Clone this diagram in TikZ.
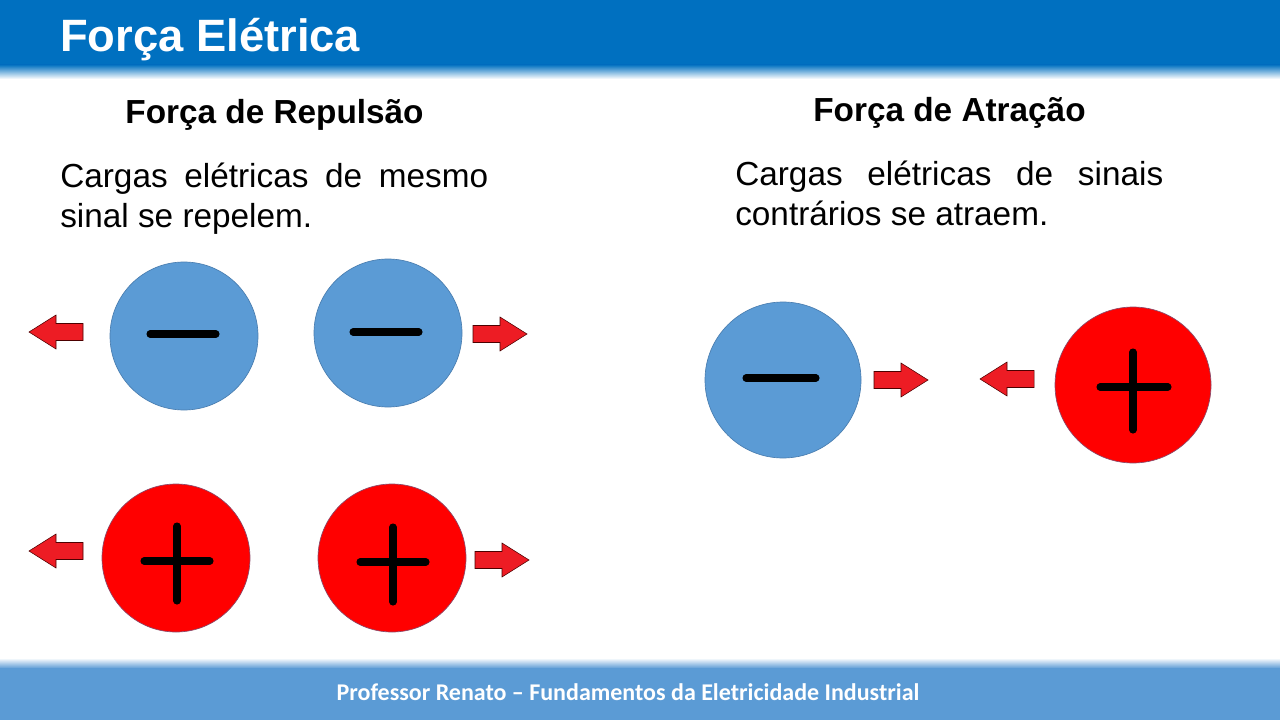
\documentclass[tikz,border=0pt]{standalone}
\usepackage{fontspec}
\setmainfont{Liberation Sans}
\newfontfamily\calfont{Carlito}
\definecolor{hdrblue}{HTML}{0070C0}
\definecolor{ftrblue}{HTML}{5B9BD5}
\definecolor{negblue}{HTML}{5B9BD5}
\definecolor{negedge}{HTML}{4A7EB0}
\definecolor{posred}{HTML}{FF0000}
\definecolor{posedge}{HTML}{8A4A6A}
\definecolor{arrred}{HTML}{ED1C24}
\tikzset{
  negch/.style={circle, fill=negblue, draw=negedge, line width=0.5pt, minimum size=111pt, inner sep=0pt},
  posch/.style={circle, fill=posred, draw=posedge, line width=0.5pt, minimum size=111pt, inner sep=0pt},
  signbar/.style={line width=5.3pt, line cap=round, black},
  pics/forcearrow/.style={code={
    \draw[fill=arrred, draw=black!70!red, line width=0.4pt]
      (0,-8.5) -- (27,-8.5) -- (27,-17) -- (54,0) -- (27,17) -- (27,8.5) -- (0,8.5) -- cycle;
  }},
  headtxt/.style={font=\bfseries\fontsize{25}{30}\selectfont, inner sep=0pt},
  bodytxt/.style={font=\fontsize{25}{30}\selectfont, inner sep=0pt}
}
\begin{document}
\begin{tikzpicture}[x=0.75pt,y=-0.75pt]
\useasboundingbox (0,0) rectangle (1280,720);
\fill[white] (0,0) rectangle (1280,720);
% header
\fill[hdrblue] (0,0) rectangle (1280,65);
\shade[top color=hdrblue, bottom color=white] (0,64.5) rectangle (1280,79);
\node[anchor=base west, inner sep=0pt, text=white, font=\bfseries\fontsize{34}{40}\selectfont] (title) at (60,52) {Força Elétrica};
% footer
\shade[top color=white, bottom color=ftrblue] (0,658) rectangle (1280,668.5);
\fill[ftrblue] (0,668) rectangle (1280,720);
\node[anchor=base, inner sep=0pt, text=white, font=\calfont\bfseries\fontsize{18}{22}\selectfont] (footer) at (628,700) {Professor Renato – Fundamentos da Eletricidade Industrial};
% headings
\node[headtxt, anchor=base] (hrep) at (274.5,124) {Força de Repulsão};
\node[headtxt, anchor=base] (hatr) at (949.5,122) {Força de Atração};
% body text
\node[bodytxt, anchor=base west] (brep1) at (60,188) {\makebox[321pt][s]{Cargas elétricas de mesmo}};
\node[bodytxt, anchor=base west] (brep2) at (60,228) {sinal se repelem.};
\node[bodytxt, anchor=base west] (batr1) at (735,186) {\makebox[321pt][s]{Cargas elétricas de sinais}};
\node[bodytxt, anchor=base west] (batr2) at (735,226) {contrários se atraem.};
% repulsion: negative pair
\node[negch] (n1) at (184,336) {};
\node[negch] (n2) at (388,333) {};
\draw[signbar] (150,334) -- (216,334);
\draw[signbar] (353,332) -- (419,332);
\pic[xscale=-1] at (83,332) {forcearrow};
\pic at (473,334) {forcearrow};
% repulsion: positive pair
\node[posch] (p1) at (176,558) {};
\node[posch] (p2) at (392,558) {};
\draw[signbar] (144,561) -- (210,561);
\draw[signbar] (177,526) -- (177,601);
\draw[signbar] (360,562) -- (426,562);
\draw[signbar] (393,527) -- (393,602);
\pic[xscale=-1] at (83,551) {forcearrow};
\pic at (475,560) {forcearrow};
% attraction
\node[negch, minimum size=117pt] (n3) at (783,380) {};
\node[posch, minimum size=117pt] (p3) at (1133,385) {};
\draw[signbar] (746,378) -- (816,378);
\draw[signbar] (1100,387) -- (1168,387);
\draw[signbar] (1133,352) -- (1133,430);
\pic at (874,380) {forcearrow};
\pic[xscale=-1] at (1034,379) {forcearrow};
\end{tikzpicture}
\end{document}
